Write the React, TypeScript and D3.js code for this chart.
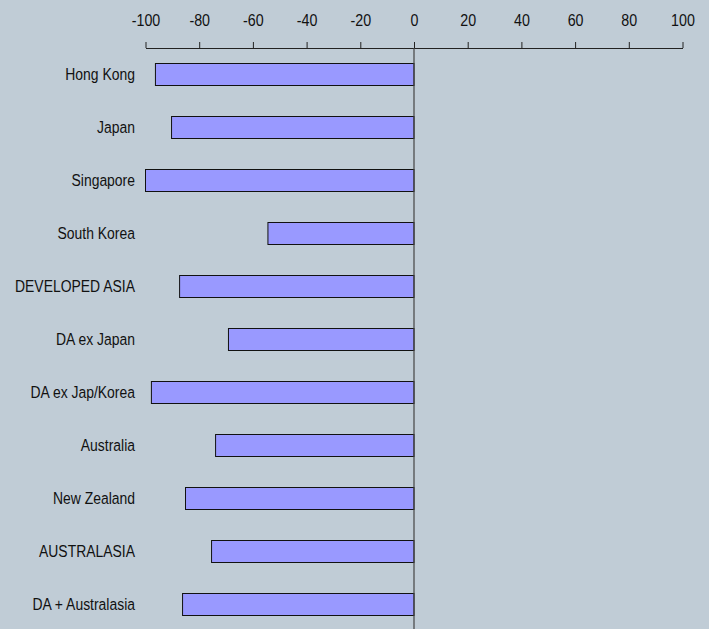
import React, { useEffect, useRef } from 'react';
import * as d3 from 'd3';

const regions = [
  'Hong Kong',
  'Japan',
  'Singapore',
  'South Korea',
  'DEVELOPED ASIA',
  'DA ex Japan',
  'DA ex Jap/Korea',
  'Australia',
  'New Zealand',
  'AUSTRALASIA',
  'DA + Australasia',
];
const values = [-96.3, -90.3, -100, -54.4, -87.3, -69.1, -97.8, -73.9, -85.1, -75.4, -86.2];
const xTicks = [-100, -80, -60, -40, -20, 0, 20, 40, 60, 80, 100];

const App: React.FC = () => {
  const svgRef = useRef<SVGSVGElement | null>(null);

  useEffect(() => {
    const svg = d3.select(svgRef.current);
    svg.selectAll('*').remove();

    const width = 709;
    const height = 629;
    const font = '"Liberation Sans", Arial, sans-serif';
    const squeeze = 0.84; // reference uses a narrow face

    svg.append('rect').attr('width', width).attr('height', height).attr('fill', '#c0ccd6');

    const x = d3.scaleLinear().domain([-100, 100]).range([145.5, 682.5]);
    const y = d3.scaleBand().domain(regions).range([48, 631]).paddingInner(0.585).paddingOuter(0.2925);

    const axis = svg
      .append('g')
      .attr('transform', 'translate(0,48)')
      .call(
        d3
          .axisTop(x)
          .tickValues(xTicks)
          .tickSize(6)
          .tickSizeOuter(0)
          .tickPadding(16)
          .tickFormat((d) => String(d))
      );
    axis.select('.domain').attr('stroke', '#222');
    axis.selectAll('line').attr('stroke', '#222');
    axis
      .selectAll('text')
      .attr('fill', '#111')
      .attr('transform', `scale(${squeeze},1)`)
      .style('font-family', font)
      .style('font-size', '17px');

    svg
      .selectAll('.bar')
      .data(values)
      .join('rect')
      .attr('class', 'bar')
      .attr('x', (d) => x(d))
      .attr('y', (d, i) => y(regions[i]) || 0)
      .attr('width', (d) => x(0) - x(d))
      .attr('height', y.bandwidth())
      .attr('fill', '#9999ff')
      .attr('stroke', '#111')
      .attr('stroke-width', 1);

    svg
      .append('line')
      .attr('x1', x(0))
      .attr('x2', x(0))
      .attr('y1', 48)
      .attr('y2', height)
      .attr('stroke', '#444')
      .attr('stroke-width', 1.2);

    svg
      .selectAll('.label')
      .data(regions)
      .join('text')
      .attr('class', 'label')
      .attr('transform', (d) => `translate(135,${(y(d) || 0) + y.bandwidth() / 2}) scale(0.82,1)`)
      .attr('dy', '0.35em')
      .attr('text-anchor', 'end')
      .attr('fill', '#111')
      .style('font-family', font)
      .style('font-size', '17px')
      .text((d) => d);
  }, []);

  return <svg ref={svgRef} width={709} height={629} style={{ position: 'absolute', left: 0, top: 0 }} />;
};

export default App;
